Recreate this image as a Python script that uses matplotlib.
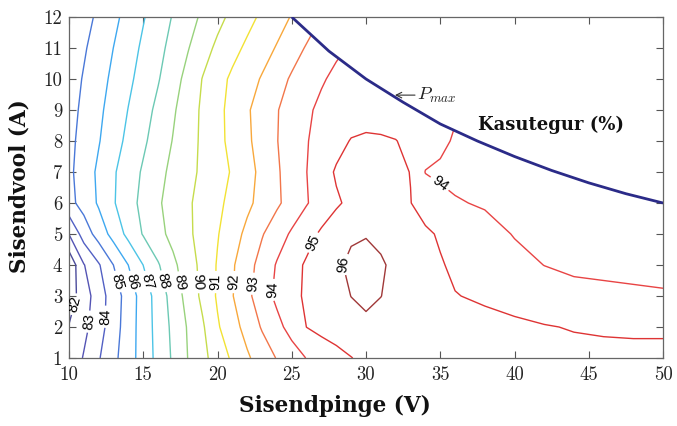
import numpy as np
import matplotlib
matplotlib.use('Agg')
import matplotlib.pyplot as plt
from matplotlib.patches import Polygon

plt.rcParams['font.family'] = ['Liberation Sans', 'DejaVu Sans']
plt.rcParams['mathtext.fontset'] = 'cm'

# ---- data ----
voltage = [10, 11, 12, 13, 14, 15, 16, 17, 18, 19, 20, 21, 22, 23, 24, 25, 26, 27, 28,
           29, 30, 31, 32, 33, 34, 35, 36, 38, 40, 42, 44, 46, 48, 50]
current = [1, 2, 3, 4, 5, 6, 7, 8, 9, 10, 11, 12]

eff_i1 = [82.25, 83.08, 83.92, 84.75, 85.58, 86.43, 87.29, 88.13, 89.01, 89.73, 90.45, 91.15, 91.86, 92.47, 93.05, 93.55, 94.03, 94.34, 94.66,
          94.97, 95.25, 95.4, 95.5, 95.55, 95.55, 95.5, 95.48, 95.42, 95.36, 95.3, 95.25, 95.22, 95.2, 95.2]
eff_i2 = [82.05, 82.73, 83.59, 84.55, 85.52, 86.45, 87.35, 88.22, 89.08, 89.88, 90.89, 91.62, 92.35, 93.09, 93.72, 94.35, 95.01, 95.3, 95.5,
          95.7, 95.8, 95.75, 95.65, 95.55, 95.45, 95.4, 95.35, 95.25, 95.15, 95.05, 94.95, 94.9, 94.88, 94.88]
eff_i3 = [81.5, 82.5, 83.55, 84.48, 85.45, 86.45, 87.42, 88.4, 89.35, 90.23, 91.12, 91.95, 92.76, 93.54, 94.21, 94.74, 95.14, 95.43, 95.71,
          96.01, 96.2, 96.01, 95.8, 95.6, 95.42, 95.25, 95.03, 94.88, 94.71, 94.45, 94.3, 94.2, 94.15, 94.1]
eff_i4 = [81.2, 82.95, 83.9, 85.01, 86.01, 87.01, 87.91, 88.78, 89.54, 90.28, 91.08, 91.88, 92.63, 93.37, 94.08, 94.64, 95.13, 95.5, 95.87,
          96.15, 96.3, 96.08, 95.85, 95.6, 95.35, 95.07, 94.85, 94.55, 94.28, 93.99, 93.82, 93.8, 93.75, 93.7]
eff_i5 = [83.02, 84.43, 85.42, 86.36, 87.28, 88.07, 88.71, 89.28, 89.81, 90.37, 90.94, 91.58, 92.24, 92.93, 93.55, 94.13, 94.64, 95.15, 95.5,
          95.9, 95.95, 95.85, 95.65, 95.4, 95.15, 94.9, 94.7, 94.35, 93.95, 93.8, 93.7, 93.65, 93.6, 93.55]
eff_i6 = [84.7, 85.37, 86.12, 86.92, 87.62, 88.27, 88.88, 89.38, 89.86, 90.33, 90.79, 91.28, 91.79, 92.32, 92.84, 93.39, 93.94, 94.42, 94.88,
          95.2, 95.35, 95.4, 95.3, 95.02, 94.6, 94.25, 94.08, 93.9, 93.7, 93.6, 93.55, 93.5, 93.45, 93.4]
eff_i7 = [84.79, 85.48, 86.18, 86.89, 87.52, 88.12, 88.71, 89.24, 89.71, 90.18, 90.62, 91.09, 91.66, 92.25, 92.88, 93.44, 93.99, 94.59, 95.1,
          95.25, 95.3, 95.3, 95.2, 94.98, 93.97, 93.85, 93.75, 93.6, 93.5, 93.45, 93.45, 93.45, 93.45, 93.45]
eff_i8 = [84.74, 85.34, 85.94, 86.6, 87.24, 87.84, 88.44, 89.04, 89.61, 90.17, 90.72, 91.28, 91.83, 92.4, 92.97, 93.46, 93.95, 94.33, 94.7,
          95.05, 95.15, 95.12, 95.03, 94.75, 94.45, 94.2, 93.9, 93.7, 93.6, 93.55, 93.5, 93.5, 93.5, 93.5]
eff_i9 = [84.64, 85.22, 85.8, 86.41, 87.03, 87.62, 88.23, 88.87, 89.52, 90.16, 90.74, 91.31, 91.89, 92.42, 92.95, 93.38, 93.81, 94.25, 94.45,
          94.55, 94.6, 94.55, 94.45, 94.3, 94.15, 94.2, 94.1, 93.85, 93.8, 93.8, 93.8, 93.8, 93.8, 93.8]
eff_i10 = [84.53, 85.08, 85.64, 86.21, 86.8, 87.37, 87.93, 88.6, 89.31, 90.04, 90.64, 91.18, 91.62, 92.08, 92.62, 93.12, 93.5, 93.88, 94.25,
           94.4, 94.45, 94.4, 94.3, 94.2, 94.1, 94.05, 93.95, 93.8, 93.8, 93.8, 93.8, 93.8, 93.8, 93.8]
eff_i11 = [84.33, 84.89, 85.44, 86.01, 86.59, 87.17, 87.72, 88.31, 88.94, 89.6, 90.2, 90.7, 91.18, 91.62, 92.07, 92.6, 93.08, 93.43, 93.8,
           94.1, 94.2, 94.2, 94.1, 94.02, 93.9, 93.9, 93.9, 93.8, 93.8, 93.8, 93.8, 93.8, 93.8, 93.8]
eff_i12 = [84.09, 84.64, 85.2, 85.76, 86.34, 86.93, 87.5, 88.06, 88.61, 89.17, 89.72, 90.23, 90.7, 91.17, 91.61, 92.06, 92.53, 93.01, 93.3,
           93.6, 93.8, 93.9, 93.9, 93.9, 93.9, 93.9, 93.9, 93.9, 93.9, 93.9, 93.9, 93.9, 93.9, 93.9]

levels = list(range(82, 97))
level_colors = ['#4b4b9b', '#5454b4', '#5260c4', '#4a78d8', '#3ea8f0', '#4cc4e6',
                '#6cc9b4', '#98d27c', '#c6dc4c', '#f2e234', '#f8a83c', '#f2764a',
                '#e84444', '#de3434', '#a03838']

# maximum power boundary
pmax_v = [25, 27.5, 30, 32.5, 35, 37.5, 40, 42.5, 45, 47.5, 50]
pmax_i = [12.0, 10.9, 10.0, 9.25, 8.55, 8.0, 7.5, 7.05, 6.65, 6.3, 6.0]

# contour label positions
label_pos = [(10.55, 2.71), (11.41, 2.17), (12.54, 2.33), (13.55, 3.5), (14.55, 3.5),
             (15.56, 3.5), (16.57, 3.5), (17.6, 3.45), (18.75, 3.45), (19.82, 3.45),
             (21.06, 3.45), (22.29, 3.4), (23.6, 3.2), (26.33, 4.75), (28.35, 4.05),
             (34.74, 6.47)]

W, H = 677, 426
fig = plt.figure(figsize=(W / 100, H / 100), dpi=100)
ax = fig.add_axes([69 / W, 1 - 358 / H, (663 - 69) / W, (358 - 17) / H])

VV, II = np.meshgrid(voltage, current)
Z = np.array([eff_i1, eff_i2, eff_i3, eff_i4, eff_i5, eff_i6, eff_i7, eff_i8,
              eff_i9, eff_i10, eff_i11, eff_i12])

cs = ax.contour(VV, II, Z, levels=levels, colors=level_colors, linewidths=1.0)
ax.clabel(cs, levels=levels, inline=True, fmt='%d', fontsize=10.5, colors='k',
          manual=label_pos, inline_spacing=3)

clip_verts = [(10, 1), (10, 12)] + list(zip(pmax_v, pmax_i)) + [(50, 1)]
clip = Polygon(clip_verts, closed=True, transform=ax.transData, facecolor='none', edgecolor='none')
cs.set_clip_path(clip)

ax.plot(pmax_v, pmax_i, color='#2b2b88', lw=2.0, solid_capstyle='butt', zorder=3)

ax.annotate('', xy=(31.95, 9.48), xytext=(33.3, 9.48),
            arrowprops=dict(arrowstyle='->', lw=0.8, color='#333333', shrinkA=0, shrinkB=0))
ax.text(33.45, 9.48, r'$P_{max}$', fontsize=13.5, ha='left', va='center', color='#222222')

ax.set_xlim(10, 50)
ax.set_ylim(1, 12)
ax.set_xticks(range(10, 51, 5))
ax.set_yticks(range(1, 13))
ax.tick_params(direction='in', top=True, right=True, length=5, width=0.8,
               labelsize=13.5, colors='#555555', labelcolor='#222222')
ax.tick_params(axis='x', pad=6)
ax.tick_params(axis='y', pad=5)
for lab in ax.get_xticklabels() + ax.get_yticklabels():
    lab.set_fontfamily('cmr10')
for sp in ax.spines.values():
    sp.set_color('#666666')
    sp.set_linewidth(0.9)

fig.text(335 / W, 1 - 406 / H, 'Sisendpinge (V)', fontsize=15.5, fontweight='bold',
         family='DejaVu Serif', ha='center', va='center', color='#111111')
fig.text(20 / W, 1 - 186 / H, 'Sisendvool (A)', fontsize=15.5, fontweight='bold',
         family='DejaVu Serif', ha='center', va='center', rotation=90, color='#111111')
fig.text(478 / W, 1 - 125 / H, 'Kasutegur (%)', fontsize=13, fontweight='bold',
         family='DejaVu Serif', ha='left', va='center', color='#111111')

fig.savefig('out.png', dpi=100)
